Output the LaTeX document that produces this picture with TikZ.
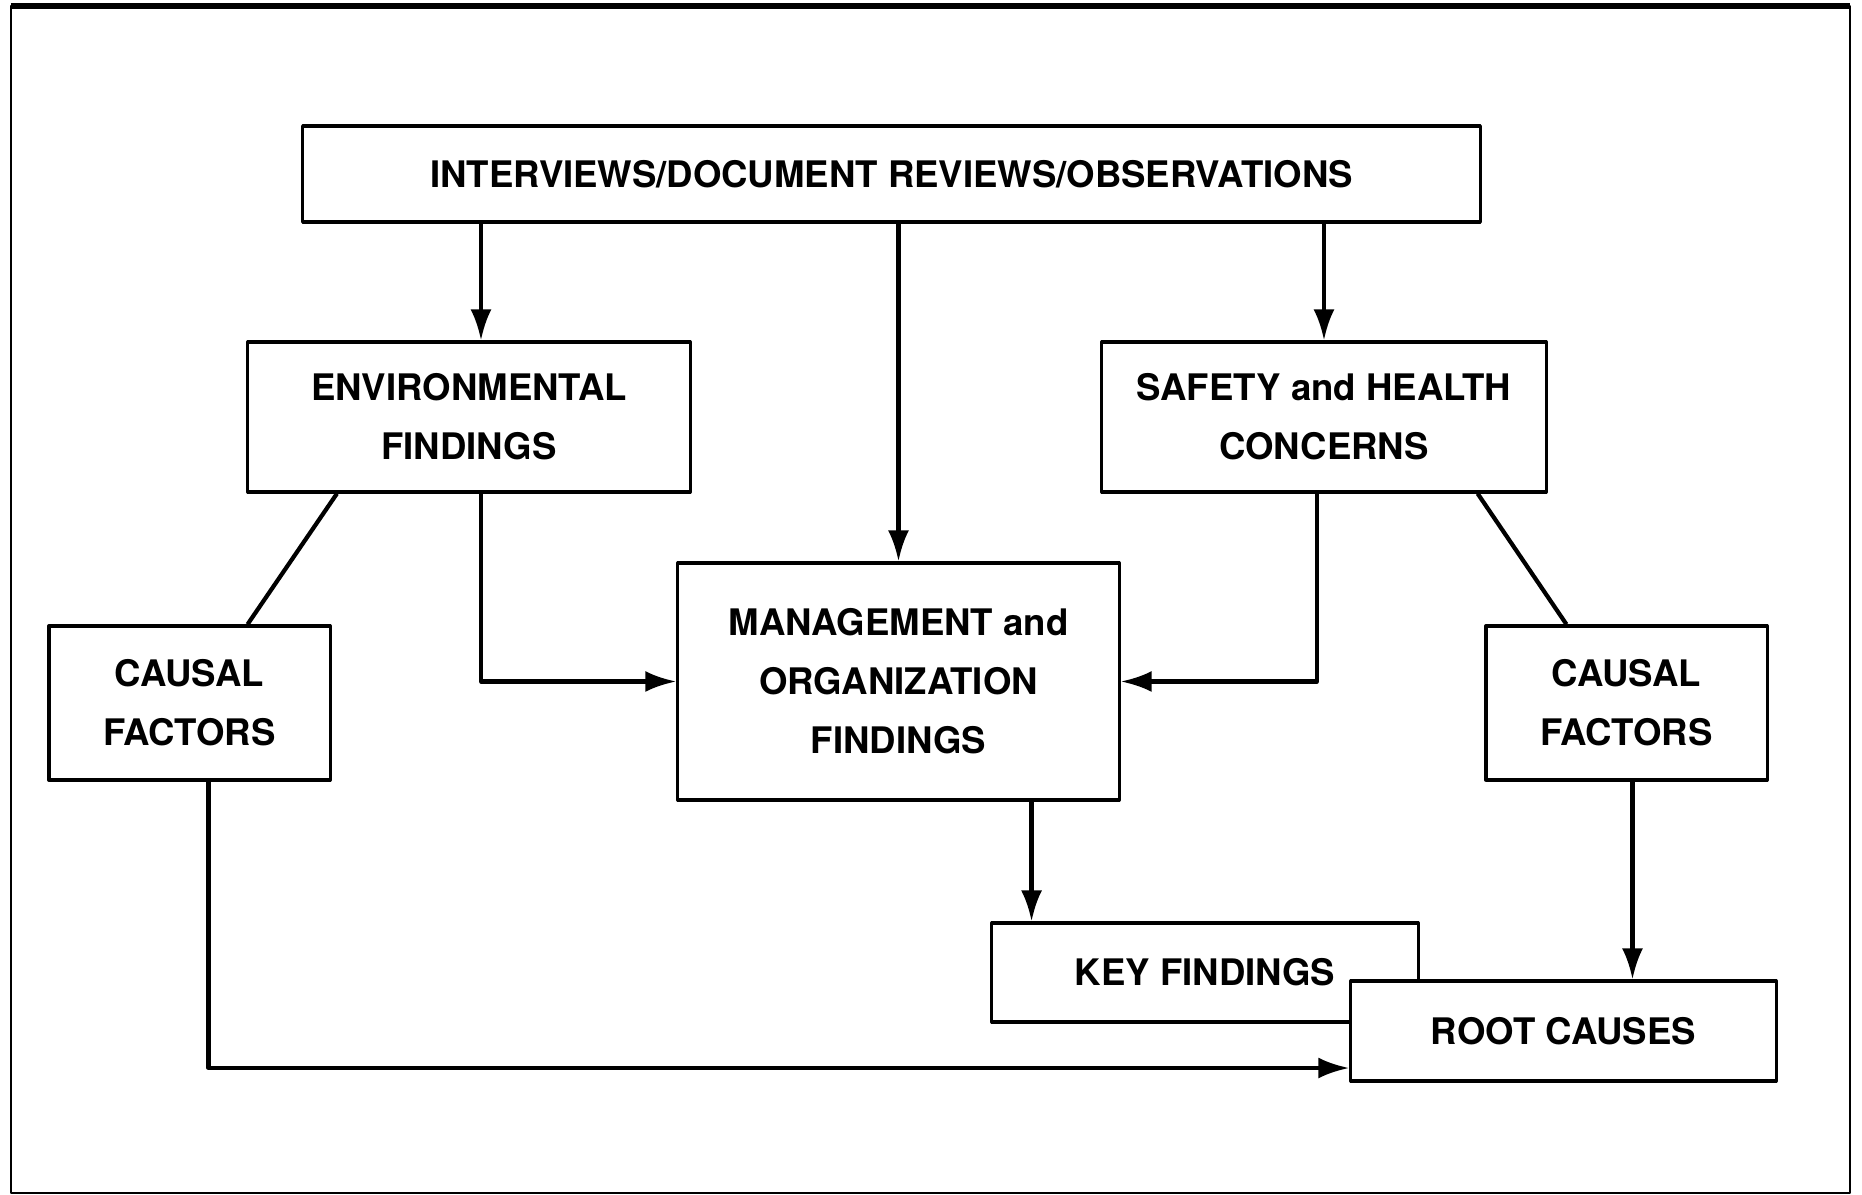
\documentclass[tikz,border=0pt]{standalone}
\usepackage{fontspec}
\setmainfont{TeX Gyre Heros}
\usetikzlibrary{arrows.meta}
\begin{document}
\begin{tikzpicture}[x=0.01cm, y=-0.01cm, line join=round, >={Latex[length=3.1mm,width=2.1mm]},
		box/.style={draw, fill=white, line width=0.9pt, align=center, inner sep=0pt,
			font=\fontsize{10.4}{16.8}\selectfont\bfseries},
		arr/.style={->, line width=1.2pt},
		link/.style={line width=1.2pt}]
				\useasboundingbox (0,0) rectangle (1862,1195);
				\draw[line width=0.5pt] (11,6) rectangle (1850,1193);
				\draw[line width=1.6pt] (11,6) -- (1850,6);
				\node[box, minimum width=11.77cm, minimum height=0.96cm] (top) at (891.5,174) {INTERVIEWS/DOCUMENT REVIEWS/OBSERVATIONS};
				\node[box, minimum width=4.42cm, minimum height=1.5cm] (env) at (469,417) {ENVIRONMENTAL\\FINDINGS};
				\node[box, minimum width=4.44cm, minimum height=1.5cm] (safety) at (1324,417) {SAFETY and HEALTH\\CONCERNS};
				\node[box, minimum width=4.41cm, minimum height=2.37cm] (mgmt) at (898.5,681.5) {MANAGEMENT and\\ORGANIZATION\\FINDINGS};
				\node[box, minimum width=2.81cm, minimum height=1.54cm] (causalL) at (189.5,703) {CAUSAL\\FACTORS};
				\node[box, minimum width=2.81cm, minimum height=1.54cm] (causalR) at (1626.5,703) {CAUSAL\\FACTORS};
				\node[box, minimum width=4.26cm, minimum height=0.99cm] (key) at (1205,972.5) {KEY FINDINGS};
				\node[box, minimum width=4.25cm, minimum height=1cm] (root) at (1563.5,1031) {ROOT CAUSES};
				\draw[arr] ([xshift=0.12cm]env.north |- top.south) -- ([xshift=0.12cm]env.north);
				\draw[arr] (mgmt.north |- top.south) -- (mgmt.north);
				\draw[arr] (safety.north |- top.south) -- (safety.north);
				\draw[arr] ([xshift=0.12cm]env.south) |- (mgmt.west);
				\draw[arr] ([xshift=-0.07cm]safety.south) |- (mgmt.east);
				\draw[link] ([xshift=-1.32cm]env.south) -- ([xshift=0.58cm]causalL.north);
				\draw[link] ([xshift=-0.7cm]safety.south east) -- ([xshift=-0.6cm]causalR.north);
				\draw[arr] ([xshift=1.33cm]mgmt.south) -- ([xshift=1.33cm]mgmt.south |- key.north);
				\draw[arr] ([xshift=0.06cm]causalR.south) -- ([xshift=0.06cm]causalR.south |- root.north);
				\draw[arr] ([xshift=0.19cm]causalL.south) |- ([yshift=-0.37cm]root.west);
			\end{tikzpicture}
\end{document}
